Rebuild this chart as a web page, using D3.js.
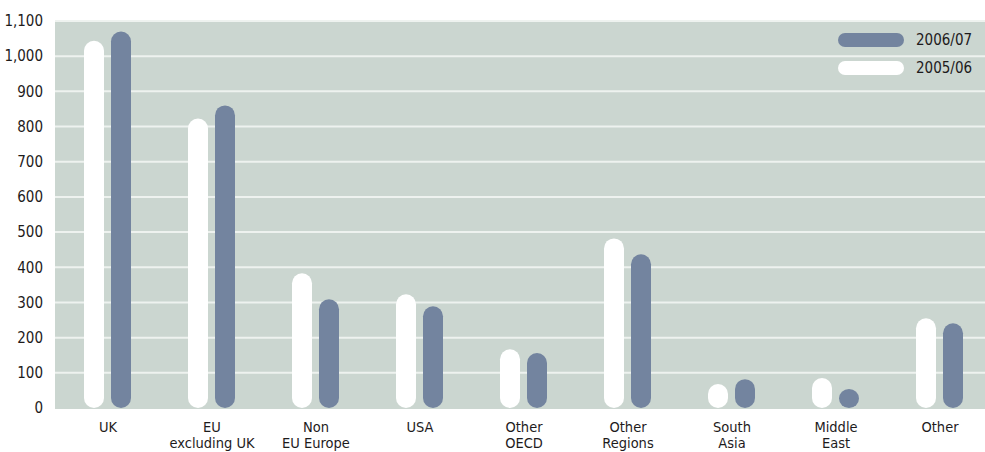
<!DOCTYPE html>
<html lang="en">
<head>
<meta charset="utf-8">
<title>Regions chart</title>
<script src="https://cdn.jsdelivr.net/npm/d3@7"></script>
<style>
  body { margin: 0; background: #fff; }
  text { font-family: "DejaVu Sans Condensed", "DejaVu Sans", sans-serif; font-stretch: condensed; fill: #1e1b1c; }
</style>
</head>
<body>
<script>
// data
var categories = [["UK"], ["EU", "excluding UK"], ["Non", "EU Europe"], ["USA"], ["Other", "OECD"],
                  ["Other", "Regions"], ["South", "Asia"], ["Middle", "East"], ["Other"]];
var series0506 = [1044, 823, 383, 323, 167, 482, 68, 85, 255];
var series0607 = [1070, 860, 309, 289, 156, 437, 82, 54, 241];
var yTicks = [0, 100, 200, 300, 400, 500, 600, 700, 800, 900, 1000, 1100];

var w = 985, h = 452;
var plotLeft = 55, plotTop = 21, plotBottom = 408;

var svg = d3.select("body").append("svg")
  .attr("width", w).attr("height", h);

var x = d3.scaleBand()
  .domain(d3.range(categories.length))
  .range([56, 992]);

var y = d3.scaleLinear()
  .domain([0, 1100])
  .range([plotBottom, plotTop]);

// plot background
svg.append("rect")
  .attr("x", plotLeft).attr("y", plotTop)
  .attr("width", w - plotLeft).attr("height", plotBottom - plotTop + 1)
  .attr("fill", "#cbd6d0");

// gridlines
svg.selectAll("line.grid")
  .data(yTicks.filter(function(d) { return d > 0; }))
  .enter().append("line")
  .attr("x1", plotLeft).attr("x2", w)
  .attr("y1", function(d) { return y(d); })
  .attr("y2", function(d) { return y(d); })
  .attr("stroke", "#eef2ef")
  .attr("stroke-width", 2);

// y axis labels
var fmt = d3.format(",");
svg.selectAll("text.ytick")
  .data(yTicks)
  .enter().append("text")
  .attr("x", 43)
  .attr("y", function(d) { return y(d); })
  .attr("dy", "0.35em")
  .attr("text-anchor", "end")
  .attr("font-size", "15px")
  .text(function(d) { return fmt(d); });

var barW = 20;
function drawBars(values, offset, color) {
  svg.selectAll(null)
    .data(values)
    .enter().append("rect")
    .attr("x", function(d, i) { return x(i) + x.bandwidth() / 2 + offset - barW / 2; })
    .attr("y", function(d) { return y(d); })
    .attr("width", barW)
    .attr("height", function(d) { return y(0) - y(d); })
    .attr("rx", barW / 2)
    .attr("fill", color);
}
drawBars(series0506, -14, "#ffffff");
drawBars(series0607, 13, "#73849f");

// category labels
var cat = svg.selectAll("text.cat")
  .data(categories)
  .enter().append("text")
  .attr("text-anchor", "middle")
  .attr("font-size", "14.5px")
  .attr("transform", function(d, i) { return "translate(" + (x(i) + x.bandwidth() / 2) + ",432)"; });
cat.selectAll("tspan")
  .data(function(d) { return d; })
  .enter().append("tspan")
  .attr("x", 0)
  .attr("dy", function(d, i) { return i === 0 ? 0 : 16; })
  .text(function(d) { return d; });

// legend
var legend = [["2006/07", "#73849f", 40], ["2005/06", "#ffffff", 68]];
legend.forEach(function(l) {
  svg.append("rect")
    .attr("x", 838).attr("y", l[2] - 7)
    .attr("width", 66).attr("height", 14)
    .attr("rx", 7)
    .attr("fill", l[1]);
  svg.append("text")
    .attr("x", 916).attr("y", l[2])
    .attr("dy", "0.35em")
    .attr("font-size", "15px")
    .text(l[0]);
});
</script>
</body>
</html>
